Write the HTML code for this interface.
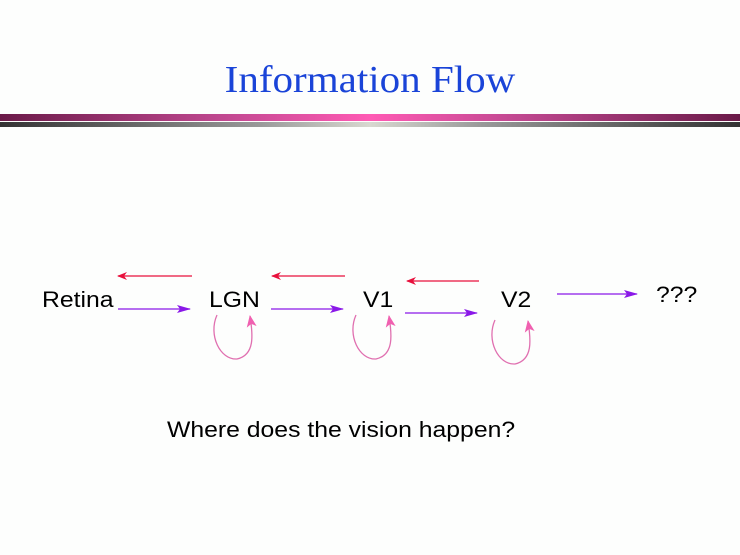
<!DOCTYPE html>
<html><head><style>
body{margin:0;width:740px;height:555px;background:#fdfefd;overflow:hidden;position:relative;font-family:"Liberation Sans",sans-serif}
.t{position:absolute;white-space:nowrap;transform:scaleX(1.125);transform-origin:0 0}
</style></head><body>
<div style="position:absolute;left:0;width:740px;text-align:center;top:58px;font-family:'Liberation Serif',serif;font-size:38px;color:#1a44d8;transform:scaleX(1.08);transform-origin:370px 0">Information Flow</div>
<div style="position:absolute;left:0;top:114px;width:740px;height:7px;background:linear-gradient(90deg,#6a1a48,#c04890 30%,#ff5ab4 50%,#c04890 70%,#6a1a48)"></div>
<div style="position:absolute;left:0;top:122px;width:740px;height:5px;background:linear-gradient(90deg,#333,#999 35%,#d8d8d0 50%,#999 65%,#333)"></div>
<div class="t" style="left:42px;top:287px;font-size:22px">Retina</div>
<div class="t" style="left:209px;top:287px;font-size:22px">LGN</div>
<div class="t" style="left:363px;top:287px;font-size:22px">V1</div>
<div class="t" style="left:501px;top:287px;font-size:22px">V2</div>
<div class="t" style="left:656px;top:282px;font-size:22px">???</div>
<div class="t" style="left:167px;top:417px;font-size:22px">Where does the vision happen?</div>
<svg width="740" height="555" style="position:absolute;left:0;top:0">
<defs>
<marker id="r" markerWidth="10" markerHeight="8" refX="9" refY="4" orient="auto" markerUnits="userSpaceOnUse"><path d="M0,0L10,4L0,8L3,4Z" fill="#e8103c"/></marker>
<marker id="p" markerWidth="14" markerHeight="8" refX="13" refY="4" orient="auto" markerUnits="userSpaceOnUse"><path d="M0,0L14,4L0,8L3,4Z" fill="#8a18e8"/></marker>
<marker id="k" markerWidth="12" markerHeight="10" refX="11" refY="5" orient="auto" markerUnits="userSpaceOnUse"><path d="M0,0L12,5L0,10L3,5Z" fill="#f060b0"/></marker>
</defs>
<g stroke-width="1.3" fill="none">
<line x1="192" y1="276" x2="118" y2="276" stroke="#e8103c" marker-end="url(#r)"/>
<line x1="345" y1="276" x2="272" y2="276" stroke="#e8103c" marker-end="url(#r)"/>
<line x1="479" y1="281" x2="407" y2="281" stroke="#e8103c" marker-end="url(#r)"/>
<line x1="118" y1="309" x2="190" y2="309" stroke="#8a18e8" marker-end="url(#p)"/>
<line x1="271" y1="309" x2="343" y2="309" stroke="#8a18e8" marker-end="url(#p)"/>
<line x1="405" y1="313" x2="477" y2="313" stroke="#8a18e8" marker-end="url(#p)"/>
<line x1="557" y1="294" x2="637" y2="294" stroke="#8a18e8" marker-end="url(#p)"/>
<path d="M217,315 C208,335 220,360 237,359 C255,355 253,335 250,316" stroke="#e070b0" marker-end="url(#k)"/>
<path d="M356,315 C347,335 359,360 376,359 C394,355 392,335 389,316" stroke="#e070b0" marker-end="url(#k)"/>
<path d="M495,320 C486,340 498,365 515,364 C533,360 531,340 528,321" stroke="#e070b0" marker-end="url(#k)"/>
</g></svg>
</body></html>
